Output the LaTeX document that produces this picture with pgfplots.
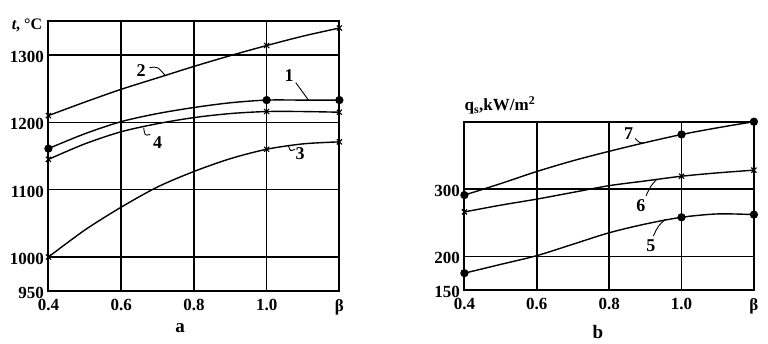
\documentclass[border=0pt]{standalone}
\usepackage{fontspec}
\setmainfont{Liberation Serif}
\usepackage{pgfplots}
\pgfplotsset{compat=1.18}
\begin{document}
\begin{tikzpicture}[x=1pt,y=1pt]
\path[use as bounding box] (0,0) rectangle (768,344);
\tikzset{
  lab/.style={font=\fontsize{18}{18}\selectfont\bfseries, inner sep=0pt},
  ldr/.style={black, line width=0.9pt},
}
\pgfplotsset{
  myax/.style={
    scale only axis, xmin=0.4, xmax=1.2,
    xtick={0.4,0.6,0.8,1.0,1.2}, xticklabels={0.4,0.6,0.8,1.0,β},
    grid=major, major grid style={black, line width=1.5pt},
    axis line style={line width=2pt},
    major tick length=0pt,
    tick label style={font=\fontsize{17}{17}\selectfont\bfseries},
    xticklabel style={yshift=-5pt},
    yticklabel style={xshift=-1pt, yshift=-2pt},
    /pgf/number format/assume math mode=true,
    /pgf/number format/1000 sep={},
    clip=false,
    every axis plot/.append style={black, line width=1.4pt, smooth, tension=0.5},
  },
  mc/.style={mark=*, mark size=3.4pt, mark options={solid, fill=black}},
  mx/.style={mark=x, mark size=3.6pt, mark options={solid, line width=1.1pt}},
}
% ---------- panel a ----------
\begin{axis}[myax, at={(48.4pt,53.3pt)}, anchor=south west,
  width=291pt, height=269.4pt, ymin=950, ymax=1350,
  ytick={950,1000,1100,1200,1300}]
% curve 1
\addplot[mc, mark indices={1,7,9}] coordinates {(0.4,1161) (0.5,1183) (0.6,1201) (0.7,1213) (0.8,1222) (0.9,1229) (1.0,1233) (1.1,1233) (1.2,1233)};
% curve 2
\addplot[mx, mark indices={1,7,9}] coordinates {(0.4,1210) (0.5,1230) (0.6,1249) (0.7,1266) (0.8,1283) (0.9,1299) (1.0,1314) (1.1,1328) (1.2,1340)};
% curve 3
\addplot[mx, mark indices={1,7,9}] coordinates {(0.4,1000) (0.5,1040) (0.6,1074) (0.7,1104) (0.8,1127) (0.9,1146) (1.0,1160) (1.1,1168) (1.2,1171)};
% curve 4
\addplot[mx, mark indices={1,7,9}] coordinates {(0.4,1145) (0.5,1168) (0.6,1186) (0.7,1198) (0.8,1207) (0.9,1213) (1.0,1216) (1.1,1216) (1.2,1215)};
\node[lab] at (axis cs:0.655,1277) {2};
\draw[ldr] (axis cs:0.678,1281) .. controls (axis cs:0.70,1283) .. (axis cs:0.722,1269);
\node[lab] at (axis cs:1.062,1270) {1};
\draw[ldr] (axis cs:1.08,1259) -- (axis cs:1.115,1233);
\node[lab] at (axis cs:0.70,1170) {4};
\draw[ldr] (axis cs:0.662,1192) .. controls (axis cs:0.665,1180) .. (axis cs:0.68,1182);
\node[lab] at (axis cs:1.092,1154) {3};
\draw[ldr] (axis cs:1.06,1165) .. controls (axis cs:1.065,1157) .. (axis cs:1.078,1160);
\node[anchor=east, font=\fontsize{16}{16}\selectfont\bfseries, inner sep=0pt] at ([xshift=-6pt,yshift=-4pt]rel axis cs:0,1) {\textit{t}, °C};
\end{axis}
\node[font=\fontsize{19}{19}\selectfont\bfseries] at (180,16) {a};
% ---------- panel b ----------
\begin{axis}[myax, at={(464.4pt,54pt)}, anchor=south west,
  width=289.5pt, height=168.3pt, ymin=150, ymax=400,
  ytick={150,200,300}]
% curve 5
\addplot[mc, mark indices={1,7,9}] coordinates {(0.4,175) (0.5,188) (0.6,201) (0.7,218) (0.8,235) (0.9,248) (1.0,258) (1.1,263) (1.2,262)};
% curve 6
\addplot[mx, mark indices={1,7,9}] coordinates {(0.4,266) (0.5,276) (0.6,285) (0.7,295) (0.8,305) (0.9,312) (1.0,319) (1.1,324) (1.2,328)};
% curve 7
\addplot[mc, mark indices={1,7,9}] coordinates {(0.4,291) (0.5,308) (0.6,326) (0.7,342) (0.8,356) (0.9,369) (1.0,381) (1.1,391) (1.2,400)};
\node[lab] at (axis cs:0.854,382) {7};
\draw[ldr] (axis cs:0.872,375) .. controls (axis cs:0.885,368) .. (axis cs:0.9,369);
\node[lab] at (axis cs:0.888,276) {6};
\draw[ldr] (axis cs:0.902,290) .. controls (axis cs:0.915,305) .. (axis cs:0.933,315);
\node[lab] at (axis cs:0.915,216) {5};
\draw[ldr] (axis cs:0.922,230) .. controls (axis cs:0.935,245) .. (axis cs:0.955,255);
\node[anchor=south west, font=\fontsize{17}{17}\selectfont\bfseries, inner sep=0pt] at ([xshift=0pt,yshift=7pt]rel axis cs:0,1) {q\textsubscript{s},kW/m\textsuperscript{2}};
\end{axis}
\node[font=\fontsize{19}{19}\selectfont\bfseries] at (598,12) {b};
\end{tikzpicture}
\end{document}
